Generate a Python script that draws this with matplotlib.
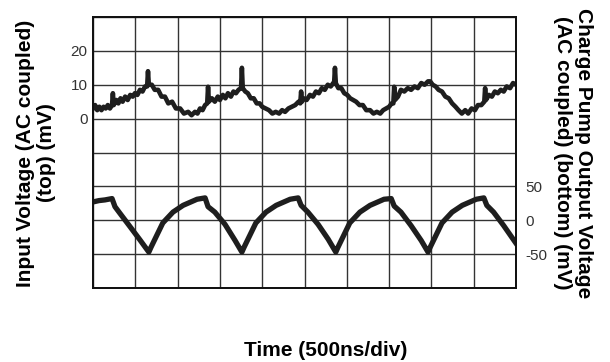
import matplotlib
matplotlib.use("Agg")
import matplotlib.pyplot as plt

plt.rcParams["font.family"] = ["Liberation Sans", "DejaVu Sans"]

# time in scope divisions (500 ns/div)
t_top = [0.00, 0.05, 0.10, 0.15, 0.20, 0.25, 0.30, 0.35, 0.40, 0.45, 0.47, 0.49, 0.55, 0.60, 0.65, 0.70, 0.76, 0.82, 0.88, 0.94, 0.99, 1.05, 1.11, 1.17, 1.23, 1.28, 1.30, 1.32,
         1.39, 1.46, 1.54, 1.62, 1.70, 1.78, 1.87, 1.96, 2.06, 2.15, 2.25, 2.33, 2.41, 2.47, 2.53, 2.59, 2.65, 2.70, 2.72, 2.74,
         2.81, 2.88, 2.95, 3.00, 3.07, 3.13, 3.19, 3.26, 3.32, 3.38, 3.44, 3.50, 3.52, 3.54,
         3.60, 3.66, 3.73, 3.80, 3.87, 3.94, 4.00, 4.08, 4.16, 4.24, 4.32, 4.40, 4.47, 4.54, 4.62, 4.70, 4.78, 4.86, 4.90, 4.92, 4.94,
         4.98, 5.05, 5.13, 5.20, 5.27, 5.34, 5.41, 5.48, 5.55, 5.62, 5.68, 5.70, 5.72, 5.74,
         5.80, 5.87, 5.94, 6.01, 6.08, 6.15, 6.22, 6.30, 6.38, 6.46, 6.55, 6.63, 6.71, 6.79, 6.86, 6.93, 7.00, 7.06, 7.10, 7.12, 7.14,
         7.21, 7.28, 7.36, 7.44, 7.52, 7.60, 7.68, 7.76, 7.84, 7.92, 7.97, 8.03, 8.10, 8.17, 8.25, 8.33, 8.41, 8.49, 8.57, 8.64, 8.72,
         8.80, 8.87, 8.95, 9.03, 9.10, 9.18, 9.25, 9.27, 9.29, 9.36, 9.43, 9.50, 9.57, 9.64, 9.71, 9.78, 9.86, 9.93, 10.0]
# input voltage, mV
v_top = [3, 4, 2.5, 3.5, 2.5, 3.5, 3, 4, 3, 4, 7.5, 4, 5.5, 4.5, 6, 5, 6.5, 5.5, 7, 6.5, 7.5, 7, 8.5, 8, 9.5, 9.5, 14, 10,
         10, 8.5, 8.5, 6.5, 6.5, 4.5, 5, 3, 3, 1.5, 2, 1, 2, 1.5, 3, 2.5, 4, 4.5, 9.4, 5,
         6, 5, 6.5, 5.5, 7, 6, 7.5, 6.5, 8, 7.5, 8.5, 9, 15, 9,
         8, 7.5, 6, 6, 4.5, 4.5, 3.5, 3, 2.5, 1.5, 2, 1.5, 2.5, 2, 3, 3.5, 4, 5, 4.5, 8, 5,
         6, 5.5, 7, 6.5, 8, 7.5, 9, 8.5, 10, 9.5, 10.5, 10.5, 15, 10.5,
         9, 9, 7.5, 7, 6, 5.5, 5, 4, 4, 2.5, 2.5, 1.5, 2, 1.5, 2.5, 3, 3.5, 4.5, 4.5, 9.4, 5.5,
         6.5, 8.5, 8, 9, 8.5, 9.5, 9, 10.5, 10, 11, 11, 10, 9.5, 8.5, 8, 6.5, 6, 4.5, 3.5, 2.5, 1.5,
         2.5, 1.5, 3, 2.5, 4, 4, 5, 9, 5.5, 7, 6.5, 8, 7.5, 8.5, 8, 9.5, 9, 10.5, 10]

t_bot = [0.00, 0.14, 0.28, 0.45, 0.52, 0.64, 0.87, 1.11, 1.25, 1.32,
         1.37, 1.51, 1.65, 1.89, 2.13, 2.46, 2.65, 2.72, 2.88, 3.12,
         3.36, 3.52, 3.57, 3.71, 3.85, 4.09, 4.33, 4.66, 4.85, 4.92,
         5.08, 5.32, 5.56, 5.74, 5.79, 5.93, 6.07, 6.31, 6.55, 6.88,
         7.05, 7.12, 7.28, 7.52, 7.76, 7.92, 7.97, 8.11, 8.25, 8.49,
         8.73, 9.06, 9.24, 9.31, 9.47, 9.71, 10.0]
# charge pump output, mV
v_bot = [27, 29, 30, 32, 20, 10, -9, -29, -41, -47,
         -40, -22, -4, 12, 22, 31, 33, 20, 12, -6,
         -30, -47, -40, -22, -4, 12, 22, 31, 33, 22,
         12, -6, -28, -47, -40, -22, -4, 12, 22, 31,
         32, 21, 12, -8, -30, -47, -40, -22, -4, 12,
         22, 31, 33, 22, 12, -8, -34]

fig = plt.figure(figsize=(6.1, 3.62), dpi=100)
ax = fig.add_axes([93 / 610, 1 - 288 / 362, 423 / 610, 271 / 362])
ax2 = ax.twinx()

ax.set_xlim(0, 10)
ax.set_ylim(-50, 30)
ax2.set_ylim(-100, 300)

ax.set_xticks(range(11))
ax.set_xticklabels([])
ax.set_yticks(range(-50, 31, 10))
ax.set_yticklabels(["" if v not in (0, 10, 20) else str(v) for v in range(-50, 31, 10)])
ax2.set_yticks([-50, 0, 50])
ax2.set_yticklabels(["-50", "0", "50"])

ax.grid(True, color="#333333", linewidth=1.0)
ax.tick_params(length=0, labelsize=11, labelcolor="#333333", pad=4)
ax2.tick_params(length=0, labelsize=11, labelcolor="#333333", pad=7)
for a in (ax, ax2):
    for s in a.spines.values():
        s.set_color("#111111")
        s.set_linewidth(1.3)

ax.plot(t_top, v_top, color="#1e1e1e", linewidth=3.3, solid_joinstyle="round")
ax2.plot(t_bot, v_bot, color="#1e1e1e", linewidth=3.8, solid_joinstyle="round")

fig.text(36 / 610, 1 - 153 / 362, "Input Voltage (AC coupled)\n(top) (mV)",
         rotation=90, ha="center", va="center", multialignment="center",
         fontsize=15, fontweight="bold", linespacing=1.15)
fig.text(573 / 610, 1 - 153 / 362, "Charge Pump Output Voltage\n(AC coupled) (bottom) (mV)",
         rotation=-90, ha="center", va="center", multialignment="center",
         fontsize=15, fontweight="bold", linespacing=1.15)
fig.text(326 / 610, 1 - 350 / 362, "Time (500ns/div)",
         ha="center", va="center", fontsize=15, fontweight="bold")

fig.savefig("out.png", dpi=100)
